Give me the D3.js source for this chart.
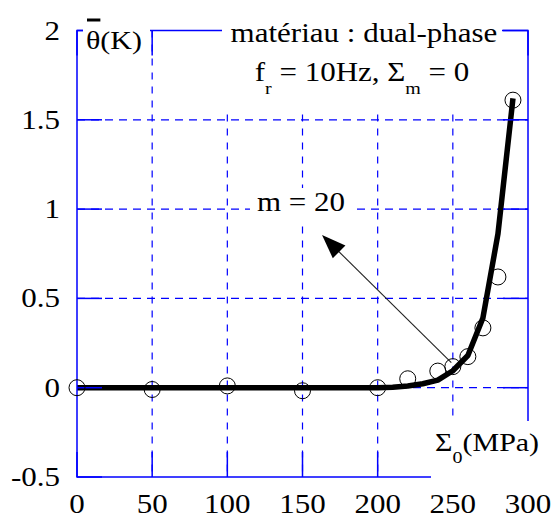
<!DOCTYPE html>
<html>
<head>
<meta charset="utf-8">
<script src="https://cdn.jsdelivr.net/npm/d3@7/dist/d3.min.js"></script>
<style>
  body { margin: 0; background: #fff; }
  text { font-family: "Liberation Serif", "Times New Roman", serif; fill: #000; }
</style>
</head>
<body>
<svg id="chart"></svg>
<script>
// measured points (circles)
var measX = [0, 50, 100, 150, 200, 220, 240, 250, 260, 270, 280, 290];
var measY = [0, -0.01, 0.01, -0.017, 0, 0.05, 0.093, 0.118, 0.174, 0.335, 0.62, 1.61];
// model curve m = 20
var modelX = [0, 50, 100, 150, 200, 210, 220, 230, 240, 250, 260, 270, 280, 290];
var modelY = [0, 0, 0, 0, 0, 0.002, 0.01, 0.022, 0.042, 0.095, 0.18, 0.39, 0.86, 1.62];
var xTicks = [0, 50, 100, 150, 200, 250, 300];
var yTicks = [-0.5, 0, 0.5, 1, 1.5, 2];
var arrowFrom = [249, 0.14], arrowTo = [163, 0.855];

var W = 551, H = 518;
var plot = {left: 77, right: 528, top: 30.5, bottom: 477};
var blue = "#0000ff";
var FS = 31, SY = 0.87;   // text is a bit squeezed vertically in the original
var tickLen = 25;

var svg = d3.select("#chart").attr("width", W).attr("height", H);

var x = d3.scaleLinear().domain([0, 300]).range([plot.left, plot.right]);
var y = d3.scaleLinear().domain([-0.5, 2]).range([plot.bottom, plot.top]);

function label(g, px, py, anchor, size) {
	return g.append("text")
		.attr("transform", "translate(" + px + "," + py + ") scale(1," + SY + ")")
		.attr("text-anchor", anchor)
		.attr("font-size", size || FS);
}

// dashed grid
var grid = svg.append("g").attr("stroke", blue).attr("stroke-width", 1.2).attr("fill", "none");
grid.selectAll("line.v")
	.data(xTicks.slice(1, -1))
	.enter().append("line")
	.attr("x1", function(d) { return x(d); })
	.attr("x2", function(d) { return x(d); })
	.attr("y1", plot.top).attr("y2", plot.bottom)
	.attr("stroke-dasharray", "7,7");
grid.selectAll("line.h")
	.data(yTicks.slice(1, -1))
	.enter().append("line")
	.attr("y1", function(d) { return y(d); })
	.attr("y2", function(d) { return y(d); })
	.attr("x1", plot.left).attr("x2", plot.right)
	.attr("stroke-dasharray", "8,6");

// model curve
svg.append("path")
	.datum(d3.range(modelX.length))
	.attr("fill", "none")
	.attr("stroke", "#000")
	.attr("stroke-width", 5.5)
	.attr("stroke-linejoin", "round")
	.attr("d", d3.line()
		.x(function(i) { return x(modelX[i]); })
		.y(function(i) { return y(modelY[i]); }));

// frame + inner ticks
var frame = svg.append("g").attr("stroke", blue).attr("stroke-width", 1.5).attr("fill", "none");
frame.append("rect")
	.attr("x", plot.left).attr("y", plot.top)
	.attr("width", plot.right - plot.left).attr("height", plot.bottom - plot.top);
xTicks.forEach(function(d) {
	frame.append("line").attr("x1", x(d)).attr("x2", x(d)).attr("y1", plot.bottom).attr("y2", plot.bottom - tickLen);
	frame.append("line").attr("x1", x(d)).attr("x2", x(d)).attr("y1", plot.top).attr("y2", plot.top + tickLen);
});
yTicks.forEach(function(d) {
	frame.append("line").attr("y1", y(d)).attr("y2", y(d)).attr("x1", plot.left).attr("x2", plot.left + tickLen);
	frame.append("line").attr("y1", y(d)).attr("y2", y(d)).attr("x1", plot.right).attr("x2", plot.right - tickLen);
});

// tick labels
var tl = svg.append("g");
yTicks.forEach(function(d) {
	label(tl, 60, y(d) + 9, "end").text(d);
});
xTicks.forEach(function(d) {
	label(tl, x(d), 513, "middle").text(d);
});

// white boxes behind the labels that sit on the frame
var masks = svg.append("g").attr("fill", "#fff");
masks.append("rect").attr("x", 83).attr("y", 10).attr("width", 67).attr("height", 48);
masks.append("rect").attr("x", 222).attr("y", 10).attr("width", 280).attr("height", 98);
masks.append("rect").attr("x", 250).attr("y", 188).attr("width", 102).attr("height", 34);
masks.append("rect").attr("x", 431).attr("y", 421).attr("width", 118).attr("height", 62);

// axis titles
var yl = label(svg, 86, 49, "start", 30);
yl.append("tspan").text("θ");
yl.append("tspan").text("(K)");
var thetaW = yl.node().getSubStringLength(0, 1);
svg.append("line")
	.attr("x1", 87).attr("x2", 86 + thetaW)
	.attr("y1", 20).attr("y2", 20)
	.attr("stroke", "#000").attr("stroke-width", 3);

var xl = label(svg, 435, 451, "start", 30);
xl.append("tspan").text("Σ");
xl.append("tspan").attr("font-size", 20).attr("dy", 12 / SY).text("0");
xl.append("tspan").attr("dy", -12 / SY).text("(MPa)");

// title block
label(svg, 364, 42, "middle").text("matériau : dual-phase");
var t2 = label(svg, 362, 81, "middle");
t2.append("tspan").text("f");
t2.append("tspan").attr("font-size", 20).attr("dy", 13 / SY).text("r");
t2.append("tspan").attr("dy", -13 / SY).text(" = 10Hz, Σ");
t2.append("tspan").attr("font-size", 20).attr("dy", 13 / SY).text("m");
t2.append("tspan").attr("dy", -13 / SY).text(" = 0");

label(svg, 257, 211, "start").text("m = 20");

// arrow
var ax0 = x(arrowFrom[0]), ay0 = y(arrowFrom[1]);
var ax1 = x(arrowTo[0]), ay1 = y(arrowTo[1]);
var len = Math.hypot(ax1 - ax0, ay1 - ay0);
var ux = (ax1 - ax0) / len, uy = (ay1 - ay0) / len;
var headL = 24, headW = 9;
svg.append("line")
	.attr("x1", ax0).attr("y1", ay0)
	.attr("x2", ax1 - ux * headL * 0.8).attr("y2", ay1 - uy * headL * 0.8)
	.attr("stroke", "#222").attr("stroke-width", 1.1);
var bx = ax1 - ux * headL, by = ay1 - uy * headL;
svg.append("polygon")
	.attr("points", [[ax1, ay1], [bx - uy * headW, by + ux * headW], [bx + uy * headW, by - ux * headW]].join(" "))
	.attr("fill", "#000");

// measured points
svg.append("g")
	.selectAll("circle")
	.data(d3.range(measX.length))
	.enter().append("circle")
	.attr("cx", function(i) { return x(measX[i]); })
	.attr("cy", function(i) { return y(measY[i]); })
	.attr("r", 8)
	.attr("fill", "none")
	.attr("stroke", "#000")
	.attr("stroke-width", 1);
</script>
</body>
</html>
